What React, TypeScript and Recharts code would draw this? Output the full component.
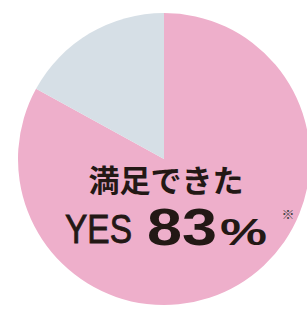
import { PieChart, Pie, Cell } from 'recharts';

const answers = ['YES', 'NO'];
const shares = [83, 17];
const colors = ['#eeafcb', '#d6dfe6'];

const data = answers.map((name, i) => ({ name, value: shares[i] }));

export default function App() {
  return (
    <div style={{ position: 'absolute', left: 0, top: 0, width: 307, height: 309, background: '#fff', overflow: 'hidden' }}>
      <PieChart width={307} height={309} margin={{ top: 0, right: 0, bottom: 0, left: 0 }}>
        <Pie
          data={data}
          dataKey="value"
          nameKey="name"
          cx={164}
          cy={159}
          outerRadius={146}
          startAngle={90}
          endAngle={-270}
          stroke="none"
          isAnimationActive={false}
        >
          {data.map((d, i) => (
            <Cell key={d.name} fill={colors[i]} />
          ))}
        </Pie>
      </PieChart>
      <svg width={307} height={309} style={{ position: 'absolute', left: 0, top: 0 }}>
        <text
          x={166}
          y={192}
          textAnchor="middle"
          fontFamily="'Noto Sans CJK JP', sans-serif"
          fontWeight="bold"
          fontSize={31}
          fill="#231815"
        >
          満足できた
        </text>
        <text
          x={65}
          y={243}
          fontFamily="'Liberation Sans', Arial, sans-serif"
          fontSize={41}
          fill="#231815"
          stroke="#231815"
          strokeWidth={0.9}
          textLength={67}
          lengthAdjust="spacingAndGlyphs"
        >
          YES
        </text>
        <text
          x={147}
          y={245}
          fontFamily="'Liberation Sans', Arial, sans-serif"
          fontWeight="bold"
          fontSize={51}
          fill="#231815"
          textLength={70}
          lengthAdjust="spacingAndGlyphs"
        >
          83
        </text>
        <text
          x={220}
          y={245}
          fontFamily="'Liberation Sans', Arial, sans-serif"
          fontWeight="bold"
          fontSize={37}
          fill="#231815"
          textLength={47}
          lengthAdjust="spacingAndGlyphs"
        >
          %
        </text>
        <text
          x={288}
          y={219}
          textAnchor="middle"
          fontFamily="'Noto Sans CJK JP', sans-serif"
          fontSize={13}
          fill="#444"
        >
          ※
        </text>
      </svg>
    </div>
  );
}
